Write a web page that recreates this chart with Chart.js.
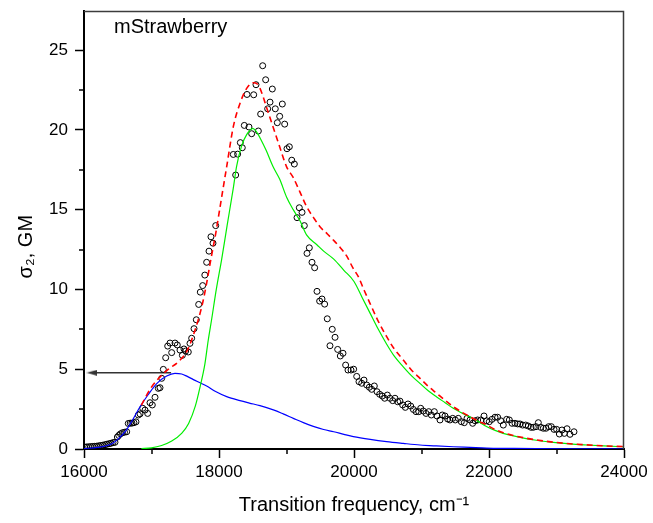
<!DOCTYPE html>
<html>
<head>
<meta charset="utf-8">
<script src="https://cdn.jsdelivr.net/npm/chart.js@4.4.1/dist/chart.umd.min.js"></script>
<style>
html,body{margin:0;padding:0;background:#fff;}
canvas{display:block;}
</style>
</head>
<body>
<canvas id="c" width="653" height="523"></canvas>
<script>
// ---- data ----
const panelLabel = 'mStrawberry';
const xTitle = 'Transition frequency, cm\u207B\u00B9';
const yTitle = '\u03C3\u2082, GM';

const measFreq = [16010,16040,16070,16100,16130,16160,16190,16220,16250,16280,16310,16340,16370,16400,16430,
16459,16494,16515,16540,16570,16600,16632,16656,16685,16710,16740,16770,16805,16830,16870,16904,16943,16978,17012,17052,
17101,17126,17151,17175,17210,17240,17274,17299,17348,17382,17422,17457,17481,17506,17545,17570,17595,17630,17664,17699,
17723,17758,17790,17817,17852,17881,17911,17951,18212,18247,18276,18316,18345,18375,18415,18444,18484,18514,18548,18583,
18617,18647,18691,18721,18756,18790,18834,18864,18899,18938,18973,19007,19042,19078,19116,19156,19190,19230,19264,19304,
19338,19378,19417,19452,19491,19526,19565,19604,19644,19678,19719,19758,19797,19837,19876,19911,19956,19995,20040,20074,
20114,20148,20188,20227,20262,20301,20341,20380,20420,20454,20494,20533,20573,20607,20647,20681,20721,20760,20800,20840,
20879,20919,20959,20988,21027,21067,21107,21146,21190,21230,21274,21308,21348,21388,21422,21462,21501,21545,21590,21634,
21674,21719,21758,21793,21832,21881,21926,21965,22004,22044,22089,22128,22173,22212,22262,22301,22341,22385,22425,22459,
22499,22543,22583,22622,22657,22696,22731,22766,22805,22844,22884,22923,22963,23002,23042,23081,23116,23156,23200,23259];
const measSigma = [0.12,0.13,0.14,0.15,0.16,0.17,0.18,0.2,0.22,0.24,0.27,0.3,0.33,0.36,0.4,
0.42,0.75,0.85,0.95,1.02,1.05,1.08,1.6,1.62,1.62,1.65,1.7,2.13,2.2,2.55,2.44,2.23,2.9,2.76,3.24,
3.8,3.84,4.43,4.99,5.72,6.45,6.64,6.04,6.64,6.52,6.2,5.87,6.27,6.14,6.08,6.62,6.94,7.54,8.1,9.06,
9.83,10.24,10.9,11.7,12.4,13.3,12.9,14.0,18.46,17.17,18.48,19.2,18.88,20.28,22.22,20.18,19.76,22.2,22.83,19.93,
20.99,24.02,23.14,21.32,21.74,22.56,21.32,20.45,20.85,21.62,20.36,18.82,18.94,18.1,17.86,14.5,15.12,14.83,14.0,12.26,
12.61,11.7,11.36,9.88,9.27,9.4,9.08,8.16,6.47,7.5,7.0,6.24,5.83,6.0,5.26,4.95,4.95,5.0,4.55,4.22,
4.12,4.32,4.01,3.87,3.74,3.95,3.59,3.43,3.32,3.18,3.38,3.18,3.03,3.18,2.96,3.0,2.76,2.61,2.82,2.69,
2.48,2.34,2.34,2.55,2.38,2.23,2.34,2.13,2.34,2.07,1.82,2.13,2.07,1.88,1.82,1.92,1.82,1.92,1.71,1.65,
1.92,1.82,1.61,1.77,1.82,1.82,2.07,1.77,1.71,1.86,1.99,1.99,1.77,1.5,1.86,1.82,1.61,1.61,1.57,1.57,
1.5,1.5,1.44,1.36,1.36,1.4,1.65,1.36,1.3,1.3,1.4,1.4,1.23,1.23,0.94,1.19,0.98,1.27,0.92,1.08];

const sumFreq = [16850,16980,17100,17250,17398,17521,17600,17693,17760,17817,17880,17951,18040,18114,18212,18311,18410,18509,18560,18607,
18660,18701,18800,18899,19000,19101,19200,19299,19400,19496,19600,19693,19800,19891,19990,20064,20150,20237,20360,20484,
20600,20730,20850,20978,21100,21225,21350,21472,21600,21719,21840,21965,22100,22212,22330,22460,22700,22950,23200,23450,23700,24000];
const sumSigma = [2.75,3.75,4.4,5.0,5.47,6.1,6.9,8.1,9.2,10.4,11.9,13.5,15.8,17.7,20.2,21.66,22.6,22.95,22.9,22.6,
22.0,21.45,20.2,18.94,17.7,17.0,16.1,15.18,14.5,13.93,13.5,13.1,12.6,12.1,11.3,10.8,9.95,9.13,8.0,7.04,
6.25,5.58,4.95,4.43,3.93,3.49,3.05,2.65,2.3,2.02,1.75,1.5,1.2,1.02,0.88,0.75,0.57,0.43,0.33,0.26,0.2,0.15];

const mainFreq = [16850,17000,17150,17300,17450,17550,17650,17720,17790,17840,17890,17960,18040,18120,18210,18260,18335,18410,18500,18550,
18620,18700,18800,18900,19000,19100,19200,19300,19450,19550,19700,19850,20000,20120,20240,20360,20480,20600,20730,20850,
20980,21100,21230,21350,21470,21600,21720,21850,21970,22100,22210,22330,22460,22700,22950,23200,23450,23700,24000];
const mainSigma = [0.02,0.07,0.22,0.5,1.0,1.6,2.7,3.9,5.3,6.8,8.1,10.0,11.9,14.0,16.3,17.7,19.0,19.7,20.1,19.9,
19.4,18.7,17.7,16.9,15.8,15.0,14.3,13.4,12.8,12.4,11.9,11.2,10.5,9.5,8.5,7.5,6.6,5.8,5.15,4.6,
4.1,3.65,3.25,2.9,2.55,2.25,2.0,1.7,1.4,1.15,0.98,0.85,0.73,0.55,0.42,0.32,0.25,0.19,0.14];

const hotFreq = [16000,16200,16400,16500,16630,16730,16830,16950,17077,17225,17348,17447,17530,17620,17720,17817,17950,18114,18311,18450,
18607,18805,18950,19101,19250,19397,19550,19700,19850,19990,20240,20483,20730,20978,21220,21472,21720,21965,22300,22700,23200,24000];
const hotSigma = [0.03,0.1,0.3,0.6,1.2,1.9,2.65,3.4,4.1,4.57,4.74,4.7,4.55,4.35,4.15,3.95,3.6,3.28,3.03,2.88,
2.72,2.45,2.2,1.92,1.65,1.42,1.22,1.08,0.92,0.78,0.6,0.46,0.35,0.25,0.19,0.14,0.1,0.06,0.04,0.02,0.01,0.0];

const arrowFreq = [16118, 17290];
const arrowSigma = [4.78, 4.78];

const xMajor = 2000, xMinorTicks = [17000,19000,21000,23000];
const yMajor = 5, yMinorTicks = [2.5,7.5,12.5,17.5,22.5];

// ---- build ----
const FONT = '"Liberation Sans", Arial, Helvetica, sans-serif';
const pts = (xs, ys) => xs.map((v, i) => ({x: v, y: ys[i]}));

const head = document.createElement('canvas');
head.width = 11; head.height = 6;
(function(){const h = head.getContext('2d'); h.fillStyle = '#333'; h.beginPath(); h.moveTo(0,3); h.lineTo(11,0); h.lineTo(11,6); h.closePath(); h.fill();})();

const decor = {
  id: 'decor',
  afterDraw(chart) {
    const {ctx, chartArea: a, scales: {x, y}} = chart;
    ctx.save();
    ctx.strokeStyle = '#3c3c3c'; ctx.lineWidth = 1.5;
    ctx.beginPath(); ctx.moveTo(a.left, a.top + 0.5); ctx.lineTo(a.right - 0.5, a.top + 0.5); ctx.lineTo(a.right - 0.5, a.bottom); ctx.stroke();
    ctx.strokeStyle = '#000'; ctx.lineWidth = 1.5;
    xMinorTicks.forEach(v => { const p = Math.round(x.getPixelForValue(v)); ctx.beginPath(); ctx.moveTo(p, a.bottom); ctx.lineTo(p, a.bottom + 5); ctx.stroke(); });
    yMinorTicks.forEach(v => { const p = Math.round(y.getPixelForValue(v)); ctx.beginPath(); ctx.moveTo(a.left, p); ctx.lineTo(a.left - 5, p); ctx.stroke(); });
    ctx.fillStyle = '#000'; ctx.font = '20px ' + FONT; ctx.textBaseline = 'alphabetic'; ctx.textAlign = 'left';
    ctx.fillText(panelLabel, a.left + 30, a.top + 22);
    ctx.restore();
  }
};

new Chart(document.getElementById('c'), {
  type: 'line',
  data: {
    datasets: [
      {label: 'sum', data: pts(sumFreq, sumSigma), borderColor: '#ff0000', borderWidth: 1.6, borderDash: [6, 4], pointRadius: 0, fill: false, cubicInterpolationMode: 'monotone'},
      {label: 'main', data: pts(mainFreq, mainSigma), borderColor: '#00ee00', borderWidth: 1.2, pointRadius: 0, fill: false, cubicInterpolationMode: 'monotone'},
      {label: 'hot', data: pts(hotFreq, hotSigma), borderColor: '#0000ff', borderWidth: 1.2, pointRadius: 0, fill: false, cubicInterpolationMode: 'monotone'},
      {label: 'measured', data: pts(measFreq, measSigma), showLine: false, pointStyle: 'circle', pointRadius: 3, pointBorderWidth: 1, pointBorderColor: '#000', pointBackgroundColor: 'rgba(255,255,255,0)', borderColor: '#000'},
      {label: 'arrow', data: pts(arrowFreq, arrowSigma), borderColor: '#333', borderWidth: 1.5, pointStyle: head, pointRadius: [5, 0], pointBorderWidth: 0, fill: false}
    ]
  },
  options: {
    responsive: false,
    animation: false,
    devicePixelRatio: 1,
    layout: {padding: {left: 8, top: 11, right: 29, bottom: 0}},
    plugins: {legend: {display: false}, tooltip: {enabled: false}},
    scales: {
      x: {
        type: 'linear', min: 16000, max: 24000,
        ticks: {stepSize: xMajor, callback: v => String(v), color: '#000', font: {size: 17, family: FONT}, padding: 4, maxRotation: 0, autoSkip: false},
        grid: {drawOnChartArea: false, tickLength: 9, color: '#000', tickWidth: 1.5},
        border: {color: '#000', width: 2},
        title: {display: true, text: xTitle, color: '#000', font: {size: 20, family: FONT}, padding: {top: 0, bottom: 6}},
        afterFit(s) { s.height = 74; s.paddingLeft = 0; s.paddingRight = 0; }
      },
      y: {
        type: 'linear', min: 0, max: 27.45,
        ticks: {stepSize: yMajor, includeBounds: false, color: '#000', font: {size: 17, family: FONT}, padding: 7},
        grid: {drawOnChartArea: false, tickLength: 9, color: '#000', tickWidth: 1.5},
        border: {color: '#000', width: 2},
        title: {display: true, text: yTitle + '\u00A0\u00A0\u00A0\u00A0\u00A0\u00A0', color: '#000', font: {size: 20, family: FONT}, padding: {top: 6, bottom: 0}},
        afterFit(s) { s.width = 76; s.paddingTop = 0; s.paddingBottom = 0; }
      }
    }
  },
  plugins: [decor]
});
</script>
</body>
</html>
